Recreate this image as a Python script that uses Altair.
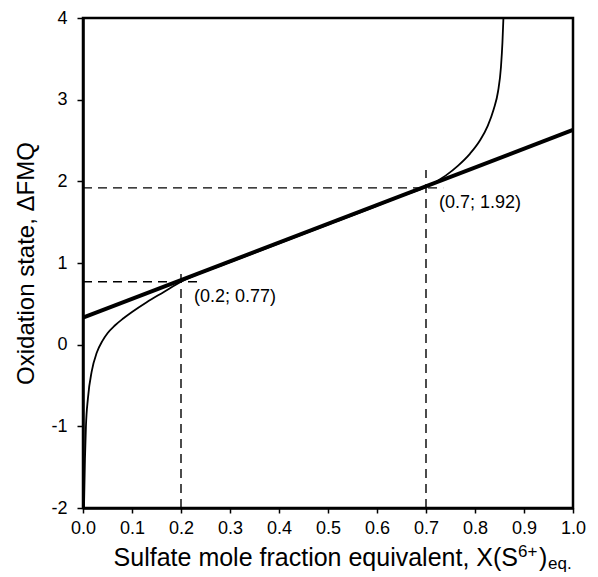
import altair as alt
import pandas as pd

# ---- data ----
x_ticks = [round(i * 0.1, 1) for i in range(11)]
y_ticks = [-2, -1, 0, 1, 2, 3, 4]

line_x = [0.0, 1.0]
line_y = [0.33, 2.63]

curve_x = [0.002, 0.004, 0.006, 0.01, 0.018, 0.028, 0.04, 0.05, 0.065, 0.082,
           0.1, 0.13, 0.165, 0.2, 0.3, 0.4, 0.5, 0.6, 0.65, 0.7, 0.74, 0.765,
           0.79, 0.81, 0.826, 0.838, 0.847, 0.853, 0.856, 0.858]
curve_y = [-2.0, -1.4, -1.0, -0.66, -0.32, -0.1, 0.05, 0.14, 0.235, 0.32,
           0.40, 0.52, 0.645, 0.77, 1.01, 1.24, 1.47, 1.70, 1.82, 1.93, 2.07,
           2.19, 2.34, 2.5, 2.68, 2.88, 3.1, 3.4, 3.7, 4.0]

hdash_x = [0.0, 0.0]
hdash_x2 = [0.24, 0.735]
hdash_y = [0.77, 1.92]

vdash_x = [0.2, 0.7]
vdash_y = [-2.0, -2.0]
vdash_y2 = [0.93, 2.14]

pt_x = [0.2, 0.7]
pt_y = [0.77, 1.92]
pt_label = ["(0.2; 0.77)", "(0.7; 1.92)"]

xtitle_parts = ["Sulfate mole fraction equivalent, X(S", "6+", ")", "eq."]
ytitle = "Oxidation state, \u0394FMQ"

FONT = "Liberation Sans"
W, H = 490, 490

xs = alt.Scale(domain=[0, 1], nice=False, zero=False)
ys = alt.Scale(domain=[-2, 4], nice=False, zero=False)

x_axis = alt.Axis(values=x_ticks, format=".1f", title=None, grid=False,
                  labelFont=FONT, labelFontSize=18, labelColor="black",
                  labelPadding=6, tickSize=5, tickWidth=1.5, tickColor="black",
                  domainColor="black", domainWidth=2.5, labelFlush=False)
y_axis = alt.Axis(values=y_ticks, title=ytitle, grid=False,
                  labelExpr="toString(datum.value)",
                  labelFont=FONT, labelFontSize=18, labelColor="black",
                  labelPadding=10, tickSize=6, tickWidth=1.5, tickColor="black",
                  domainColor="black", domainWidth=2.5,
                  titleFont=FONT, titleFontSize=24, titleFontWeight="normal",
                  titleColor="black", titlePadding=12)

line_df = pd.DataFrame({"x": line_x, "y": line_y})
curve_df = pd.DataFrame({"x": curve_x, "y": curve_y})
h_df = pd.DataFrame({"x": hdash_x, "x2": hdash_x2, "y": hdash_y})
v_df = pd.DataFrame({"x": vdash_x, "y": vdash_y, "y2": vdash_y2})
pt_df = pd.DataFrame({"x": pt_x, "y": pt_y, "t": pt_label})

thick = alt.Chart(line_df).mark_line(color="black", strokeWidth=4).encode(
    x=alt.X("x:Q", scale=xs, axis=x_axis),
    y=alt.Y("y:Q", scale=ys, axis=y_axis),
)

curve = alt.Chart(curve_df).mark_line(color="black", strokeWidth=1.8,
                                      interpolate="monotone").encode(
    x=alt.X("x:Q", scale=xs),
    y=alt.Y("y:Q", scale=ys),
)

hdash = alt.Chart(h_df).mark_rule(color="black", strokeWidth=1.4,
                                  strokeDash=[9, 6]).encode(
    x=alt.X("x:Q", scale=xs), x2="x2:Q", y=alt.Y("y:Q", scale=ys))

vdash = alt.Chart(v_df).mark_rule(color="black", strokeWidth=1.4,
                                  strokeDash=[9, 6]).encode(
    x=alt.X("x:Q", scale=xs), y=alt.Y("y:Q", scale=ys), y2="y2:Q")

labels = alt.Chart(pt_df).mark_text(font=FONT, fontSize=18, color="black",
                                    align="left", baseline="alphabetic",
                                    dx=13, dy=20).encode(
    x=alt.X("x:Q", scale=xs), y=alt.Y("y:Q", scale=ys), text="t:N")

def title_piece(text, x, y, size, align):
    return alt.Chart(pd.DataFrame({"t": [text]})).mark_text(
        font=FONT, fontSize=size, color="black", align=align,
        baseline="alphabetic").encode(
        x=alt.value(x), y=alt.value(y), text="t:N")

t1 = title_piece(xtitle_parts[0], 435, 548, 25, "right")
t2 = title_piece(xtitle_parts[1], 435, 539, 17, "left")
t3 = title_piece(xtitle_parts[2], 456, 548, 25, "left")
t4 = title_piece(xtitle_parts[3], 465, 551, 17, "left")

chart = alt.layer(thick, curve, hdash, vdash, labels, t1, t2, t3, t4).properties(
    width=W, height=H,
    autosize=alt.AutoSizeParams(type="none"),
    padding={"left": 75, "top": 10, "right": 17, "bottom": 68},
    background="white",
).configure_view(stroke="black", strokeWidth=2.5)

chart.save("out.html", embed_options={"renderer": "svg", "actions": False})
